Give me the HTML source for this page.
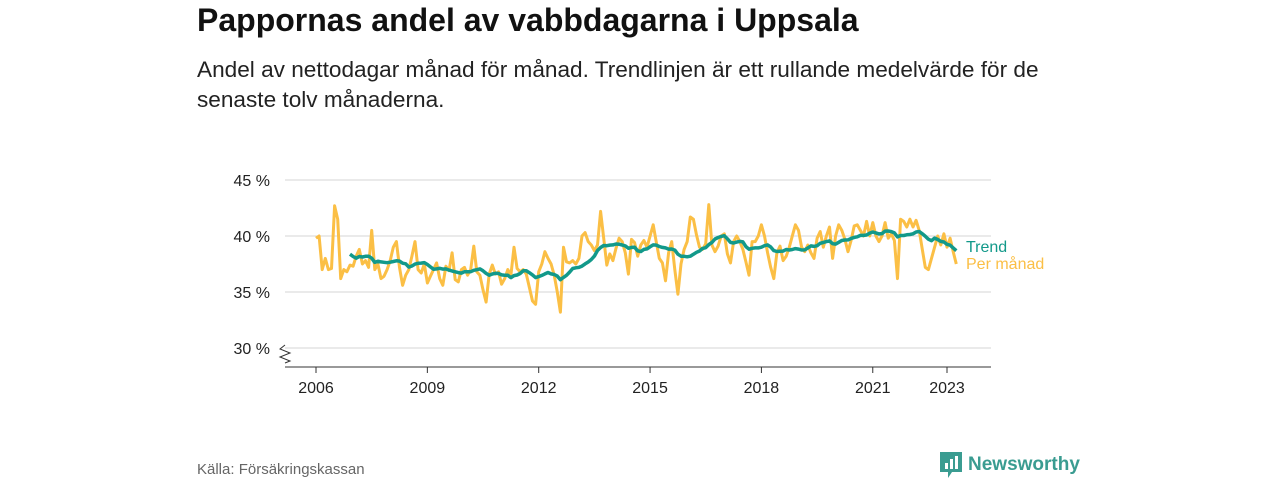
<!DOCTYPE html>
<html><head><meta charset="utf-8"><style>
body{margin:0;width:1280px;height:480px;background:#fff;font-family:"Liberation Sans","DejaVu Sans",sans-serif;overflow:hidden;position:relative}
.t{position:absolute;margin:0}
</style></head><body>
<h1 class="t" style="left:197px;top:2px;font-size:32px;font-weight:bold;color:#111;white-space:nowrap">Pappornas andel av vabbdagarna i Uppsala</h1>
<p class="t" style="left:197px;top:55px;font-size:22.6px;line-height:30px;color:#222;width:950px">Andel av nettodagar månad för månad. Trendlinjen är ett rullande medelvärde för de<br>senaste tolv månaderna.</p>
<svg id="chart" width="1280" height="480" style="position:absolute;left:0;top:0"></svg>
<div class="t" style="left:197px;top:461px;font-size:15px;color:#666">Källa: Försäkringskassan</div>
<div class="t" style="left:940px;top:452px;display:flex;align-items:center;color:#3a9c91;font-size:19px;font-weight:bold">
<svg width="22" height="26" viewBox="0 0 22 26"><path d="M0 0H22V20H12L8 26V20H0Z" fill="#3a9c91"/><rect x="5" y="11" width="3" height="6" fill="#fff"/><rect x="10" y="7" width="3" height="10" fill="#fff"/><rect x="15" y="4" width="3" height="13" fill="#fff"/></svg>
<span style="margin-left:6px">Newsworthy</span></div>
<script>
const years=[2006,2009,2012,2015,2018,2021,2023];
const yTicks=[30,35,40,45];
const startYear=2006;
const monthly=[
39.8,40.0,37.0,38.0,37.0,37.1,42.7,41.5,36.2,37.0,36.8,37.4,
37.3,38.2,38.8,37.5,37.8,37.2,40.5,37.0,37.5,36.2,36.4,37.0,
37.8,39.0,39.5,37.2,35.6,36.5,37.0,38.2,39.5,37.0,36.7,37.5,
35.8,36.4,37.0,37.6,36.2,35.6,37.3,36.9,38.5,36.1,35.9,37.0,
37.2,36.5,37.0,39.1,36.8,36.5,35.2,34.1,36.6,37.4,36.6,36.8,
35.7,36.2,37.0,36.5,39.0,37.1,36.8,37.0,36.6,35.4,34.2,33.9,
36.8,37.5,38.6,38.0,37.5,36.5,35.0,33.2,39.0,37.7,37.6,37.8,
37.5,38.0,40.0,40.3,39.5,39.2,38.7,39.2,42.2,39.8,37.4,38.4,
37.8,38.9,39.8,39.5,38.5,36.6,39.7,39.4,38.2,39.2,39.6,39.0,
40.0,41.0,39.5,38.0,37.6,36.0,38.5,39.5,37.0,34.8,37.5,38.8,
39.5,41.7,41.5,40.1,39.0,38.8,39.3,42.8,39.2,38.6,39.1,40.0,
40.2,38.4,37.6,39.5,40.0,39.5,38.8,37.7,36.5,39.5,39.5,40.0,
41.0,40.0,38.5,37.2,36.2,38.5,39.1,37.8,38.2,39.0,40.0,41.0,
40.5,39.0,38.6,39.2,38.5,38.0,39.8,40.4,39.0,40.0,40.8,38.0,
40.0,41.0,40.5,39.7,38.6,39.6,40.9,41.0,40.5,40.0,41.3,40.0,
41.2,40.0,39.5,40.0,41.2,39.8,40.2,39.6,36.2,41.5,41.3,40.8,
41.5,40.8,41.4,40.5,38.8,37.2,37.0,38.0,39.0,40.0,39.2,40.2,
39.0,39.8,38.6,37.5];
const NS="http://www.w3.org/2000/svg";
const svg=document.getElementById('chart');
const x=t=>316+(t-2006)*(947-316)/17;
const y=v=>236-(v-40)*11.2;
function mk(tag,attrs,parent){const e=document.createElementNS(NS,tag);for(const k in attrs)e.setAttribute(k,attrs[k]);(parent||svg).appendChild(e);return e;}
yTicks.forEach(v=>{
 const g=mk('line',{x1:285,x2:991,y1:y(v),y2:y(v),stroke:'#d6d6d6','stroke-width':1});
 
 
 const t=mk('text',{x:270,y:y(v)+6,'text-anchor':'end','font-size':16,fill:'#222'});
 t.textContent=v+' %';
 
 
});
const ax=mk('line',{x1:285,x2:991,y1:367,y2:367,stroke:'#333','stroke-width':1});


const br=mk('path',{d:'M285 345 L280 349 L290 353 L280 357 L290 361 L285 363',fill:'none',stroke:'#333','stroke-width':1});


years.forEach(yr=>{
 const tk=mk('line',{x1:x(yr),x2:x(yr),y1:367,y2:373,stroke:'#333'});
 
 
 const t=mk('text',{x:x(yr),y:393,'text-anchor':'middle','font-size':16,fill:'#222'});
 t.textContent=yr;
 
 
});
const pts=monthly.map((v,i)=>x(startYear+i/12).toFixed(1)+','+y(v).toFixed(1)).join(' ');
const ml=mk('polyline',{points:pts,fill:'none',stroke:'#fbbf45','stroke-width':3,'stroke-linejoin':'round'});


const tp=[];
for(let i=11;i<monthly.length;i++){let s=0;for(let j=i-11;j<=i;j++)s+=monthly[j];tp.push(x(startYear+i/12).toFixed(1)+','+y(s/12).toFixed(1));}
const tl=mk('polyline',{points:tp.join(' '),fill:'none',stroke:'#12998a','stroke-width':3.5,'stroke-linejoin':'round'});


const l1=mk('text',{x:966,y:252,'font-size':16,fill:'#12998a'});l1.textContent='Trend';


const l2=mk('text',{x:966,y:269,'font-size':16,fill:'#fbbf45'});l2.textContent='Per månad';


</script>
</body></html>
